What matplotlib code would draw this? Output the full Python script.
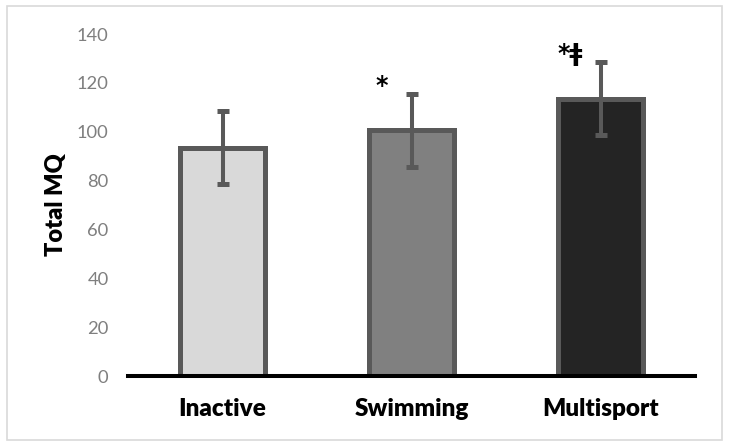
import matplotlib.pyplot as plt
from matplotlib.patches import Rectangle

groups = ["Inactive", "Swimming", "Multisport"]
total_mq = [93.5, 100.5, 113.5]
sd = [15, 15, 15]
marks = ["", "*", "*ǂ"]
fills = ["#d9d9d9", "#808080", "#242424"]

plt.rcParams['font.family'] = ['Lato', 'DejaVu Sans']

fig = plt.figure(figsize=(7.3, 4.48), dpi=100)
ax = fig.add_axes([128 / 730, 72 / 448, 567 / 730, 342 / 448])

x = range(len(groups))
ax.bar(x, total_mq, width=0.45, color=fills, edgecolor="#595959", linewidth=3.6, zorder=2)
ax.errorbar(x, total_mq, yerr=sd, fmt="none", ecolor="#595959", elinewidth=2.9,
            capsize=4, capthick=3.6, zorder=3)

for i, m in enumerate(marks):
    if m:
        ax.text(i - 0.16, total_mq[i] + sd[i] - 1.5, m, ha="center", va="bottom",
                fontsize=17, fontweight="bold", color="black",
                family=['DejaVu Sans'])

ax.set_xlim(-0.5, 2.5)
ax.set_ylim(0, 140)
ax.set_yticks(range(0, 141, 20))
ax.set_xticks(list(x))
ax.set_xticklabels(groups, fontsize=17.5, fontweight="heavy", color="black")
ax.tick_params(axis="y", length=0, pad=14, labelsize=13.2, labelcolor="#7f7f7f")
ax.tick_params(axis="x", length=0, pad=16)
ax.set_ylabel("Total MQ", fontsize=17, fontweight="heavy", labelpad=7)

for s in ["top", "right", "left"]:
    ax.spines[s].set_visible(False)
ax.spines["bottom"].set_linewidth(2.9)
ax.spines["bottom"].set_color("black")
ax.spines["bottom"].set_zorder(4)

fig.patches.append(Rectangle((7 / 730, 8 / 448), 715 / 730, 434 / 448, transform=fig.transFigure,
                             fill=False, edgecolor="#d9d9d9", linewidth=1.2))

fig.savefig("out.png", dpi=100)
